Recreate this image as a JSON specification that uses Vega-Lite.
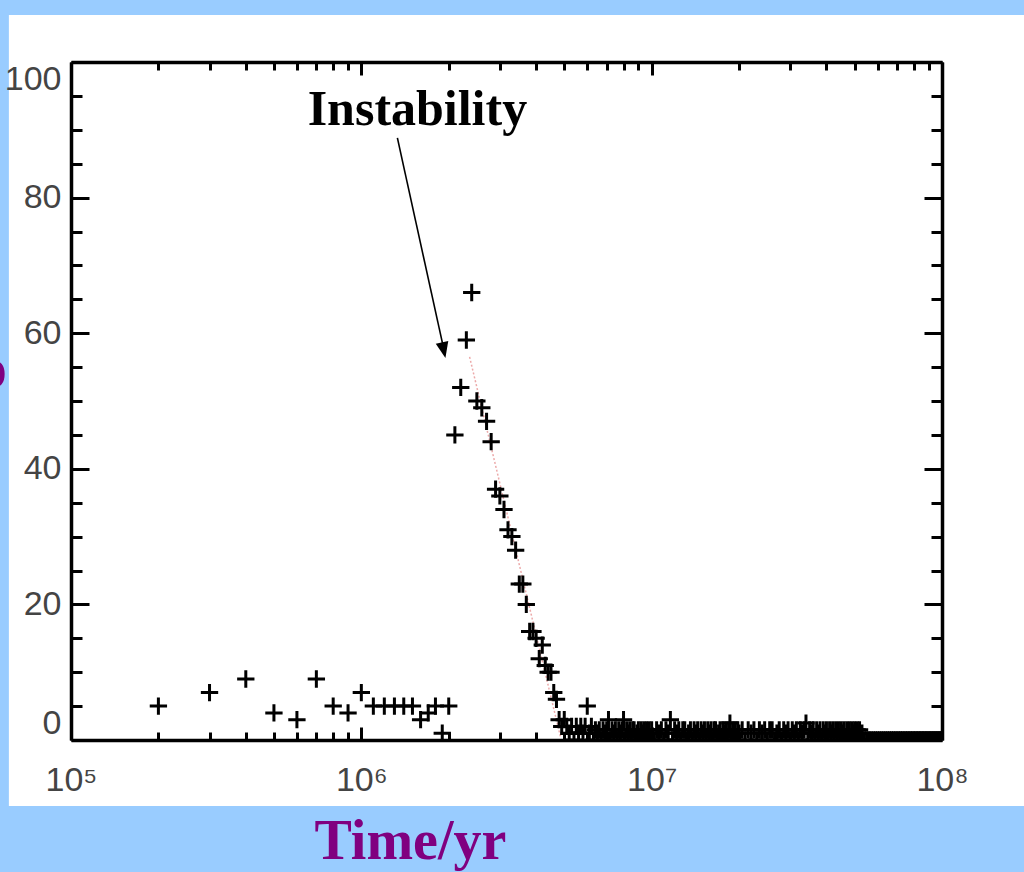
{
  "$schema": "https://vega.github.io/schema/vega-lite/v6.json",
  "width": 871,
  "height": 678,
  "autosize": {"type": "none"},
  "padding": {"left": 71, "top": 62, "right": 82, "bottom": 132},
  "background": "#99ccff",
  "config": {
    "view": {"stroke": null},
    "axis": {"grid": false, "title": null, "domainColor": "black", "domainWidth": 3.5, "tickColor": "black", "tickWidth": 3, "labelFont": "Liberation Sans", "labelFontSize": 34, "labelColor": "#444444", "labelOverlap": false}
  },
  "datasets": {
    "panel": [{"x0": 61100, "x1": 193000000, "y0": -9.73, "y1": 106.93}],
    "fit": [{"t": 2360000, "n": 56.5}, {"t": 4850000, "n": 0.5}],
    "arrow": [{"t": 1331000, "n": 88.8, "t2": 1933000, "n2": 57.2}],
    "arrowhead": [{"t": 1922000, "n": 57.5}],
    "labels": [
      {"t": 1560000, "n": 90.7, "text": "Instability", "kind": "note"},
      {"t": 1476000, "n": -17.6, "text": "Time/yr", "kind": "title"},
      {"t": 53800, "n": 52.1, "text": "o", "kind": "title"}
    ],
    "points": [
      {"t": 200000, "n": 5}, {"t": 300000, "n": 7}, {"t": 400000, "n": 9}, {"t": 500000, "n": 4},
      {"t": 600000, "n": 3}, {"t": 700000, "n": 9}, {"t": 800000, "n": 5}, {"t": 900000, "n": 4},
      {"t": 1000000, "n": 7}, {"t": 1100000, "n": 5}, {"t": 1200000, "n": 5}, {"t": 1300000, "n": 5},
      {"t": 1400000, "n": 5}, {"t": 1500000, "n": 5}, {"t": 1600000, "n": 3}, {"t": 1700000, "n": 4},
      {"t": 1800000, "n": 5}, {"t": 1900000, "n": 1}, {"t": 2000000, "n": 5},
      {"t": 2100000, "n": 45}, {"t": 2200000, "n": 52}, {"t": 2300000, "n": 59}, {"t": 2400000, "n": 66},
      {"t": 2500000, "n": 50}, {"t": 2600000, "n": 49}, {"t": 2700000, "n": 47}, {"t": 2800000, "n": 44},
      {"t": 2900000, "n": 37}, {"t": 3000000, "n": 36}, {"t": 3100000, "n": 34}, {"t": 3200000, "n": 31},
      {"t": 3300000, "n": 30}, {"t": 3400000, "n": 28}, {"t": 3500000, "n": 23}, {"t": 3600000, "n": 23},
      {"t": 3700000, "n": 20}, {"t": 3800000, "n": 16}, {"t": 3900000, "n": 16}, {"t": 4000000, "n": 15},
      {"t": 4100000, "n": 12}, {"t": 4200000, "n": 14}, {"t": 4300000, "n": 11}, {"t": 4400000, "n": 10},
      {"t": 4500000, "n": 10}, {"t": 4600000, "n": 7}, {"t": 4700000, "n": 6}, {"t": 4800000, "n": 3},
      {"t": 4900000, "n": 2},
      {"t": 5000000, "n": 3}, {"t": 5100000, "n": 2}, {"t": 5200000, "n": 1}, {"t": 5300000, "n": 2},
      {"t": 5400000, "n": 0}, {"t": 5500000, "n": 2}, {"t": 5600000, "n": 1}, {"t": 5700000, "n": 2},
      {"t": 5800000, "n": 1}, {"t": 5900000, "n": 2}, {"t": 6000000, "n": 5}, {"t": 6100000, "n": 1},
      {"t": 6200000, "n": 2}, {"t": 6300000, "n": 0}, {"t": 6400000, "n": 1.5}, {"t": 6500000, "n": 1},
      {"t": 6600000, "n": 1.5}, {"t": 6700000, "n": 0}, {"t": 6800000, "n": 1.5}, {"t": 6900000, "n": 1},
      {"t": 7000000, "n": 1.5}, {"t": 7100000, "n": 3}, {"t": 7200000, "n": 0}, {"t": 7300000, "n": 1.5},
      {"t": 7400000, "n": 1}, {"t": 7500000, "n": 1.5}, {"t": 7600000, "n": 0}, {"t": 7700000, "n": 1.5},
      {"t": 7800000, "n": 1}, {"t": 7900000, "n": 1.5}, {"t": 8000000, "n": 3}, {"t": 8100000, "n": 0},
      {"t": 8200000, "n": 1.5}, {"t": 8300000, "n": 1}, {"t": 8400000, "n": 1.5}, {"t": 8500000, "n": 0},
      {"t": 8600000, "n": 1.5}, {"t": 8700000, "n": 1.5}, {"t": 8800000, "n": 0}, {"t": 8900000, "n": 1},
      {"t": 9000000, "n": 1.5}, {"t": 9100000, "n": 0}, {"t": 9200000, "n": 1.5}, {"t": 9300000, "n": 1},
      {"t": 9400000, "n": 1.5}, {"t": 9500000, "n": 0}, {"t": 9600000, "n": 1.5}, {"t": 9700000, "n": 1},
      {"t": 9800000, "n": 1.5}, {"t": 9900000, "n": 0},
      {"t": 10000000, "n": 1.5}, {"t": 10200000, "n": 0}, {"t": 10400000, "n": 1.5}, {"t": 10600000, "n": 1},
      {"t": 10800000, "n": 1.5}, {"t": 11000000, "n": 0}, {"t": 11200000, "n": 1.5}, {"t": 11400000, "n": 1},
      {"t": 11600000, "n": 3}, {"t": 11800000, "n": 0}, {"t": 12000000, "n": 1.5}, {"t": 12200000, "n": 1},
      {"t": 12400000, "n": 1.5}, {"t": 12600000, "n": 0}, {"t": 12800000, "n": 1.5}, {"t": 13000000, "n": 1.5},
      {"t": 13200000, "n": 0}, {"t": 13400000, "n": 1}, {"t": 13600000, "n": 1.5}, {"t": 13800000, "n": 0},
      {"t": 14000000, "n": 1.5}, {"t": 14200000, "n": 1}, {"t": 14400000, "n": 1.5}, {"t": 14600000, "n": 0},
      {"t": 14800000, "n": 1.5}, {"t": 15000000, "n": 1}, {"t": 15200000, "n": 1.5}, {"t": 15400000, "n": 0},
      {"t": 15600000, "n": 1.5}, {"t": 15800000, "n": 1}, {"t": 16000000, "n": 1.5}, {"t": 16200000, "n": 0},
      {"t": 16400000, "n": 1.5}, {"t": 16600000, "n": 1.5}, {"t": 16800000, "n": 0}, {"t": 17000000, "n": 1},
      {"t": 17200000, "n": 1.5}, {"t": 17400000, "n": 0}, {"t": 17600000, "n": 1.5}, {"t": 17800000, "n": 1},
      {"t": 18000000, "n": 1.5}, {"t": 18200000, "n": 0}, {"t": 18400000, "n": 1.5}, {"t": 18600000, "n": 2.5},
      {"t": 18800000, "n": 0}, {"t": 19000000, "n": 1.5}, {"t": 19200000, "n": 1}, {"t": 19400000, "n": 1.5},
      {"t": 19600000, "n": 0}, {"t": 19800000, "n": 1.5},
      {"t": 20000000, "n": 1}, {"t": 20500000, "n": 1.5}, {"t": 21000000, "n": 0}, {"t": 21500000, "n": 1.5},
      {"t": 22000000, "n": 1}, {"t": 22500000, "n": 1.5}, {"t": 23000000, "n": 0}, {"t": 23500000, "n": 1.5},
      {"t": 24000000, "n": 1}, {"t": 24500000, "n": 1.5}, {"t": 25000000, "n": 0}, {"t": 25500000, "n": 1.5},
      {"t": 26000000, "n": 1.5}, {"t": 26500000, "n": 0}, {"t": 27000000, "n": 1}, {"t": 27500000, "n": 1.5},
      {"t": 28000000, "n": 0}, {"t": 28500000, "n": 1.5}, {"t": 29000000, "n": 1}, {"t": 29500000, "n": 1.5},
      {"t": 30000000, "n": 0}, {"t": 30500000, "n": 1.5}, {"t": 31000000, "n": 1}, {"t": 31500000, "n": 1.5},
      {"t": 32000000, "n": 0}, {"t": 32500000, "n": 1.5}, {"t": 33000000, "n": 1}, {"t": 33500000, "n": 1.5},
      {"t": 34000000, "n": 2.5}, {"t": 34500000, "n": 0}, {"t": 35000000, "n": 1.5}, {"t": 35500000, "n": 1},
      {"t": 36000000, "n": 1.5}, {"t": 36500000, "n": 0}, {"t": 37000000, "n": 1.5}, {"t": 37500000, "n": 1},
      {"t": 38000000, "n": 1.5}, {"t": 38500000, "n": 0}, {"t": 39000000, "n": 1.5}, {"t": 39500000, "n": 1},
      {"t": 40000000, "n": 1.5}, {"t": 40500000, "n": 0}, {"t": 41000000, "n": 1.5}, {"t": 41500000, "n": 1},
      {"t": 42000000, "n": 1.5}, {"t": 42500000, "n": 0}, {"t": 43000000, "n": 1.5}, {"t": 43500000, "n": 1},
      {"t": 44000000, "n": 1.5}, {"t": 44500000, "n": 0}, {"t": 45000000, "n": 1.5}, {"t": 45500000, "n": 1},
      {"t": 46000000, "n": 1.5}, {"t": 46500000, "n": 0}, {"t": 47000000, "n": 1.5}, {"t": 47500000, "n": 1},
      {"t": 48000000, "n": 1.5}, {"t": 48500000, "n": 0}, {"t": 49000000, "n": 1.5}, {"t": 49500000, "n": 1},
      {"t": 50000000, "n": 1.5}, {"t": 50500000, "n": 0}, {"t": 51000000, "n": 1.5}, {"t": 51500000, "n": 1},
      {"t": 52000000, "n": 1.5}, {"t": 52500000, "n": 0}, {"t": 53000000, "n": 1},
      {"t": 54000000, "n": 0}, {"t": 55000000, "n": 0}, {"t": 56000000, "n": 0}, {"t": 57000000, "n": 0},
      {"t": 58000000, "n": 0}, {"t": 59000000, "n": 0}, {"t": 60000000, "n": 0}, {"t": 61000000, "n": 0},
      {"t": 62000000, "n": 0}, {"t": 63000000, "n": 0}, {"t": 64000000, "n": 0}, {"t": 65000000, "n": 0},
      {"t": 66000000, "n": 0}, {"t": 67000000, "n": 0}, {"t": 68000000, "n": 0}, {"t": 69000000, "n": 0},
      {"t": 70000000, "n": 0}, {"t": 71000000, "n": 0}, {"t": 72000000, "n": 0}, {"t": 73000000, "n": 0},
      {"t": 74000000, "n": 0}, {"t": 75000000, "n": 0}, {"t": 76000000, "n": 0}, {"t": 77000000, "n": 0},
      {"t": 78000000, "n": 0}, {"t": 79000000, "n": 0}, {"t": 80000000, "n": 0}, {"t": 81000000, "n": 0},
      {"t": 82000000, "n": 0}, {"t": 83000000, "n": 0}, {"t": 84000000, "n": 0}, {"t": 85000000, "n": 0},
      {"t": 86000000, "n": 0}, {"t": 87000000, "n": 0}, {"t": 88000000, "n": 0}, {"t": 89000000, "n": 0},
      {"t": 90000000, "n": 0}, {"t": 91000000, "n": 0}, {"t": 92000000, "n": 0}, {"t": 93000000, "n": 0},
      {"t": 94000000, "n": 0}, {"t": 95000000, "n": 0}, {"t": 96000000, "n": 0}, {"t": 97000000, "n": 0},
      {"t": 98000000, "n": 0}, {"t": 99000000, "n": 0}, {"t": 100000000, "n": 0}
    ]
  },
  "layer": [
    {
      "data": {"name": "panel"},
      "mark": {"type": "rect", "fill": "white", "clip": false},
      "encoding": {
        "x": {"field": "x0", "type": "quantitative", "scale": {"type": "log", "domain": [100000, 100000000], "nice": false}, "axis": null},
        "x2": {"field": "x1"},
        "y": {"field": "y0", "type": "quantitative", "scale": {"domain": [0, 100], "nice": false, "zero": false}, "axis": null},
        "y2": {"field": "y1"}
      }
    },
    {
      "data": {"name": "fit"},
      "mark": {"type": "line", "color": "#e07070", "strokeWidth": 1.5, "strokeDash": [2, 2], "opacity": 0.6},
      "encoding": {
        "x": {"field": "t", "type": "quantitative", "scale": {"type": "log", "domain": [100000, 100000000], "nice": false},
          "axis": {"orient": "top", "labels": false, "zindex": 2,
            "values": [100000, 200000, 300000, 400000, 500000, 600000, 700000, 800000, 900000, 1000000, 2000000, 3000000, 4000000, 5000000, 6000000, 7000000, 8000000, 9000000, 10000000, 20000000, 30000000, 40000000, 50000000, 60000000, 70000000, 80000000, 90000000, 100000000],
            "tickSize": {"condition": {"test": "datum.value==100000||datum.value==1000000||datum.value==10000000||datum.value==100000000", "value": -13}, "value": -8}}},
        "y": {"field": "n", "type": "quantitative", "scale": {"domain": [0, 100], "nice": false, "zero": false},
          "axis": {"orient": "right", "labels": false, "zindex": 2,
            "values": [0, 5, 10, 15, 20, 25, 30, 35, 40, 45, 50, 55, 60, 65, 70, 75, 80, 85, 90, 95, 100],
            "tickSize": {"condition": {"test": "datum.value % 20 == 0", "value": -18}, "value": -11}}}
      }
    },
    {
      "data": {"name": "points"},
      "mark": {"type": "point", "shape": "M-1,0H1M0,-1V1", "filled": false, "stroke": "black", "strokeWidth": 3, "size": 300, "opacity": 1, "clip": true},
      "encoding": {
        "x": {"field": "t", "type": "quantitative", "scale": {"type": "log", "domain": [100000, 100000000], "nice": false},
          "axis": {"orient": "bottom", "zindex": 2,
            "values": [100000, 200000, 300000, 400000, 500000, 600000, 700000, 800000, 900000, 1000000, 2000000, 3000000, 4000000, 5000000, 6000000, 7000000, 8000000, 9000000, 10000000, 20000000, 30000000, 40000000, 50000000, 60000000, 70000000, 80000000, 90000000, 100000000],
            "labelExpr": "datum.value==100000?'10⁵':datum.value==1000000?'10⁶':datum.value==10000000?'10⁷':datum.value==100000000?'10⁸':''",
            "labelPadding": 36, "labelFlush": false,
            "tickSize": {"condition": {"test": "datum.value==100000||datum.value==1000000||datum.value==10000000||datum.value==100000000", "value": -13}, "value": -8}}},
        "y": {"field": "n", "type": "quantitative", "scale": {"domain": [0, 100], "nice": false, "zero": false},
          "axis": {"orient": "left", "zindex": 2,
            "values": [0, 5, 10, 15, 20, 25, 30, 35, 40, 45, 50, 55, 60, 65, 70, 75, 80, 85, 90, 95, 100],
            "labelExpr": "datum.value % 20 == 0 ? datum.label : ''",
            "labelPadding": 28, "labelFlush": true,
            "tickSize": {"condition": {"test": "datum.value % 20 == 0", "value": -18}, "value": -11}}}
      }
    },
    {
      "data": {"name": "arrow"},
      "mark": {"type": "rule", "color": "black", "strokeWidth": 1.6},
      "encoding": {
        "x": {"field": "t", "type": "quantitative", "scale": {"type": "log", "domain": [100000, 100000000], "nice": false}, "axis": null},
        "x2": {"field": "t2"},
        "y": {"field": "n", "type": "quantitative", "scale": {"domain": [0, 100], "nice": false, "zero": false}, "axis": null},
        "y2": {"field": "n2"}
      }
    },
    {
      "data": {"name": "arrowhead"},
      "mark": {"type": "point", "shape": "M-0.8,-1L0.8,-1L0,1Z", "filled": true, "color": "black", "size": 256, "angle": 347.7, "opacity": 1},
      "encoding": {
        "x": {"field": "t", "type": "quantitative", "scale": {"type": "log", "domain": [100000, 100000000], "nice": false}, "axis": null},
        "y": {"field": "n", "type": "quantitative", "scale": {"domain": [0, 100], "nice": false, "zero": false}, "axis": null}
      }
    },
    {
      "data": {"name": "labels"},
      "transform": [{"filter": "datum.kind == 'note'"}],
      "mark": {"type": "text", "font": "Liberation Serif", "fontWeight": "bold", "fontSize": 50, "color": "black", "align": "center", "baseline": "alphabetic", "clip": false},
      "encoding": {
        "x": {"field": "t", "type": "quantitative", "scale": {"type": "log", "domain": [100000, 100000000], "nice": false}, "axis": null},
        "y": {"field": "n", "type": "quantitative", "scale": {"domain": [0, 100], "nice": false, "zero": false}, "axis": null},
        "text": {"field": "text"}
      }
    },
    {
      "data": {"name": "labels"},
      "transform": [{"filter": "datum.kind == 'title'"}],
      "mark": {"type": "text", "font": "Liberation Serif", "fontWeight": "bold", "fontSize": 56, "color": "#800080", "align": "center", "baseline": "alphabetic", "clip": false},
      "encoding": {
        "x": {"field": "t", "type": "quantitative", "scale": {"type": "log", "domain": [100000, 100000000], "nice": false}, "axis": null},
        "y": {"field": "n", "type": "quantitative", "scale": {"domain": [0, 100], "nice": false, "zero": false}, "axis": null},
        "text": {"field": "text"}
      }
    }
  ],
  "resolve": {"axis": {"x": "independent", "y": "independent"}}
}
